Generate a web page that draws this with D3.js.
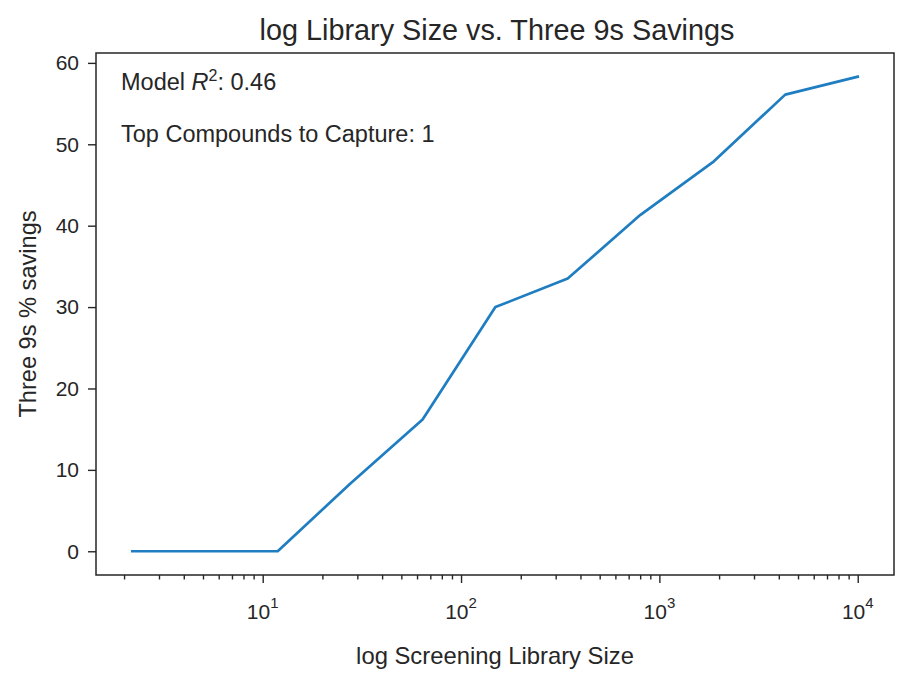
<!DOCTYPE html>
<html><head><meta charset="utf-8">
<script src="https://cdn.jsdelivr.net/npm/d3@7/dist/d3.min.js"></script>
<style>
body{margin:0;background:#fff}
text{font-family:"Liberation Sans",Arial,sans-serif;fill:#262626}
</style>
</head><body>
<svg id="c" width="916" height="678"></svg>
<script>
// ---- data ----
const librarySizes = [2.2, 5.1, 11.9, 27.6, 64, 149, 345, 800, 1860, 4310, 10000];
const savings      = [0, 0, 0, 8.3, 16.2, 30.0, 33.5, 41.3, 47.8, 56.1, 58.3];
const yTicks = [0, 10, 20, 30, 40, 50, 60];
const xMajorTicks = [10, 100, 1000, 10000];
const xTickBase = "10";
const xTickExponents = ["1", "2", "3", "4"];
const titleText = "log Library Size vs. Three 9s Savings";
const xLabelText = "log Screening Library Size";
const yLabelText = "Three 9s % savings";
const r2Value = "0.46";
const topCompounds = "1";

const svg = d3.select("#c");
const W = 916, H = 678;
const frame = {left: 96, right: 894, top: 53, bottom: 575};
const ink = "#262626";

// matplotlib-style 5% margins
const lmin = Math.log10(d3.min(librarySizes)), lmax = Math.log10(d3.max(librarySizes));
const lr = lmax - lmin;
const x = d3.scaleLog()
  .domain([Math.pow(10, lmin - 0.05*lr), Math.pow(10, lmax + 0.05*lr)])
  .range([frame.left, frame.right]);
const ymin = d3.min(savings), ymax = d3.max(savings), yr = ymax - ymin;
const y = d3.scaleLinear()
  .domain([ymin - 0.05*yr, ymax + 0.05*yr])
  .range([frame.bottom, frame.top]);

svg.append("rect").attr("width", W).attr("height", H).attr("fill", "#fff");

// minor ticks
const [d0, d1] = x.domain();
const minors = [];
for (let e = Math.floor(Math.log10(d0)); e <= Math.ceil(Math.log10(d1)); e++) {
  for (let m = 2; m <= 9; m++) {
    const v = m * Math.pow(10, e);
    if (v >= d0 && v <= d1) minors.push(v);
  }
}
const gMinor = svg.append("g").attr("transform", `translate(0,${frame.bottom})`)
  .call(d3.axisBottom(x).tickValues(minors).tickSize(4.5).tickFormat(""));
const gMajor = svg.append("g").attr("transform", `translate(0,${frame.bottom})`)
  .call(d3.axisBottom(x).tickValues(xMajorTicks).tickSize(8).tickFormat(""));
[gMinor, gMajor].forEach(g => {
  g.select(".domain").remove();
  g.selectAll("line").attr("stroke", ink).attr("stroke-width", 1.4);
});

// x tick labels with superscripts
const xl = svg.append("g");
xMajorTicks.forEach((v, i) => {
  const t = xl.append("text")
    .attr("x", x(v)).attr("y", 619)
    .attr("text-anchor", "middle")
    .attr("font-size", 21);
  t.append("tspan").text(xTickBase);
  t.append("tspan").attr("dy", -11).attr("font-size", 15).text(xTickExponents[i]);
});

// y axis
const gY = svg.append("g").attr("transform", `translate(${frame.left},0)`)
  .call(d3.axisLeft(y).tickValues(yTicks).tickSize(8).tickPadding(9));
gY.select(".domain").remove();
gY.selectAll("line").attr("stroke", ink).attr("stroke-width", 1.4);
gY.selectAll("text").attr("font-size", 21).attr("fill", ink)
  .style("font-family", '"Liberation Sans",Arial,sans-serif');

// line
const pts = librarySizes.map((v, i) => [v, savings[i]]);
svg.append("path")
  .datum(pts)
  .attr("fill", "none")
  .attr("stroke", "#1f7dc1")
  .attr("stroke-width", 2.7)
  .attr("stroke-linejoin", "round")
  .attr("stroke-linecap", "square")
  .attr("d", d3.line().x(d => x(d[0])).y(d => y(d[1])));

// frame
svg.append("rect")
  .attr("x", frame.left).attr("y", frame.top)
  .attr("width", frame.right - frame.left).attr("height", frame.bottom - frame.top)
  .attr("fill", "none").attr("stroke", ink).attr("stroke-width", 1.5);

// annotations
const a1 = svg.append("text").attr("x", 121).attr("y", 90).attr("font-size", 23.5);
a1.append("tspan").text("Model ");
a1.append("tspan").attr("font-style", "italic").text("R");
a1.append("tspan").attr("dy", -9).attr("font-size", 16).text("2");
a1.append("tspan").attr("dy", 9).text(": " + r2Value);

svg.append("text").attr("x", 121).attr("y", 142).attr("font-size", 23.5)
  .text("Top Compounds to Capture: " + topCompounds);

// title and labels
const cx = (frame.left + frame.right) / 2;
svg.append("text").attr("x", cx + 2).attr("y", 40).attr("text-anchor", "middle")
  .attr("font-size", 28.8).text(titleText);
svg.append("text").attr("x", cx).attr("y", 664).attr("text-anchor", "middle")
  .attr("font-size", 23.8).text(xLabelText);
svg.append("text")
  .attr("transform", `translate(36,${(frame.top + frame.bottom) / 2}) rotate(-90)`)
  .attr("text-anchor", "middle").attr("font-size", 23.6).text(yLabelText);
</script>
</body></html>
